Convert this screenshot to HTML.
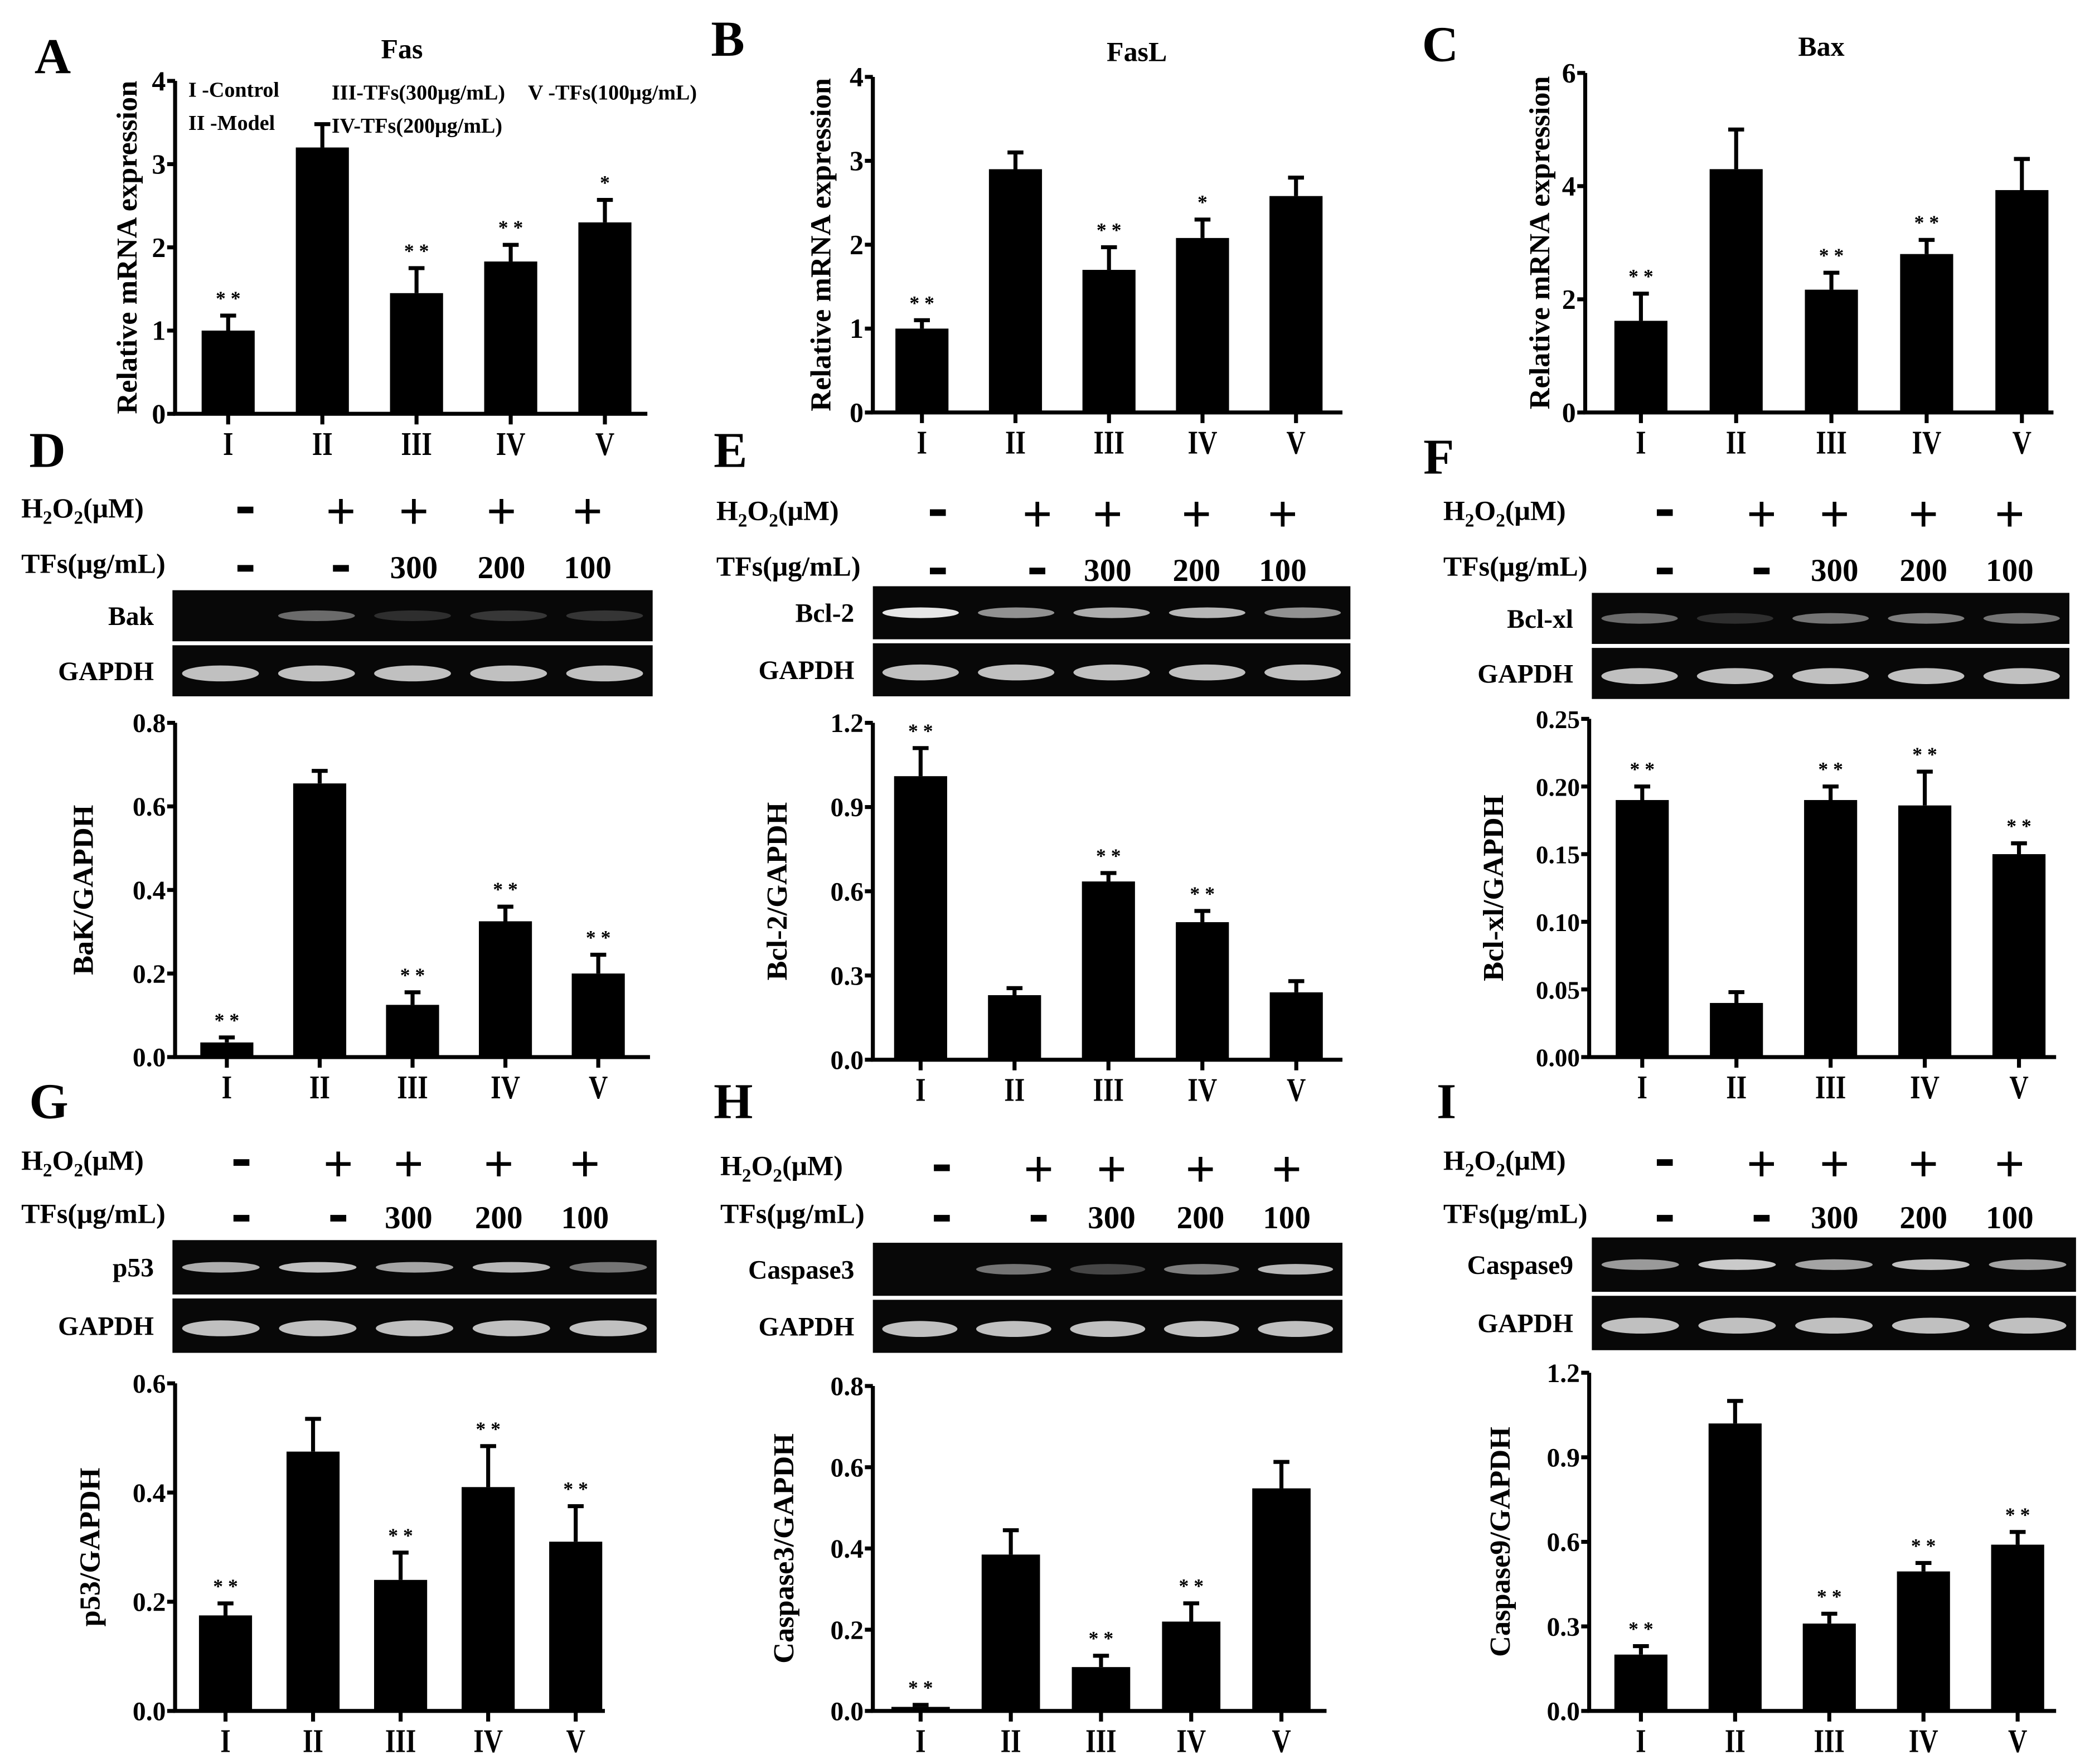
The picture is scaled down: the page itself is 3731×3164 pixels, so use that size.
<!DOCTYPE html>
<html><head><meta charset="utf-8">
<style>
html,body{margin:0;padding:0;background:#fff;}
svg{display:block;}
text{font-family:"Liberation Serif",serif;font-weight:bold;fill:#000;}
</style></head>
<body>
<svg id="fig" width="3731" height="3164" viewBox="0 0 1568 1330" preserveAspectRatio="none" xmlns="http://www.w3.org/2000/svg"></svg>
<script>
const categories = ["I","II","III","IV","V"];
const fasVals = [1.0,3.2,1.45,1.83,2.3];
const fasErr = [0.18,0.28,0.3,0.2,0.27];
const fasStars = ["**","","**","**","*"];
const fasTicks = ["0","1","2","3","4"];
const faslVals = [1.0,2.9,1.7,2.08,2.58];
const faslErr = [0.1,0.2,0.27,0.22,0.22];
const faslStars = ["**","","**","*",""];
const faslTicks = ["0","1","2","3","4"];
const baxVals = [1.62,4.3,2.17,2.8,3.93];
const baxErr = [0.48,0.7,0.3,0.25,0.55];
const baxStars = ["**","","**","**",""];
const baxTicks = ["0","2","4","6"];
const bakVals = [0.035,0.655,0.125,0.325,0.2];
const bakErr = [0.012,0.03,0.03,0.035,0.045];
const bakStars = ["**","","**","**","**"];
const bakTicks = ["0.0","0.2","0.4","0.6","0.8"];
const bcl2Vals = [1.01,0.23,0.635,0.49,0.24];
const bcl2Err = [0.1,0.025,0.03,0.04,0.04];
const bcl2Stars = ["**","","**","**",""];
const bcl2Ticks = ["0.0","0.3","0.6","0.9","1.2"];
const bclxlVals = [0.19,0.04,0.19,0.186,0.15];
const bclxlErr = [0.01,0.008,0.01,0.025,0.008];
const bclxlStars = ["**","","**","**","**"];
const bclxlTicks = ["0.00","0.05","0.10","0.15","0.20","0.25"];
const p53Vals = [0.175,0.475,0.24,0.41,0.31];
const p53Err = [0.022,0.06,0.05,0.075,0.065];
const p53Stars = ["**","","**","**","**"];
const p53Ticks = ["0.0","0.2","0.4","0.6"];
const casp3Vals = [0.01,0.385,0.108,0.22,0.548];
const casp3Err = [0.005,0.06,0.028,0.045,0.065];
const casp3Stars = ["**","","**","**",""];
const casp3Ticks = ["0.0","0.2","0.4","0.6","0.8"];
const casp9Vals = [0.2,1.02,0.31,0.495,0.59];
const casp9Err = [0.03,0.08,0.035,0.03,0.045];
const casp9Stars = ["**","","**","**","**"];
const casp9Ticks = ["0.0","0.3","0.6","0.9","1.2"];
const h2o2Labels = ["-","+","+","+","+"];
const tfsLabels = ["-","-","300","200","100"];
const bakBand = [0.0,0.35,0.03,0.08,0.07];
const bcl2Band = [1,0.55,0.7,0.75,0.55];
const bclxlBand = [0.35,0.03,0.4,0.45,0.4];
const p53Band = [0.7,0.8,0.65,0.75,0.4];
const casp3Band = [0,0.4,0.15,0.45,0.75];
const casp9Band = [0.6,0.85,0.65,0.8,0.65];

const svg = document.getElementById('fig');
const NS = 'http://www.w3.org/2000/svg';
function mk(tag, attrs, parent){const e=document.createElementNS(NS,tag);for(const k in attrs)e.setAttribute(k,attrs[k]);(parent||svg).appendChild(e);return e;}
function txt(s,x,y,size,anchor,parent,extra){const t=mk('text',Object.assign({x:x,y:y,'font-size':size,'text-anchor':anchor||'middle'},extra||{}),parent);t.textContent=s;return t;}

function chart(cfg){
  const g = mk('g',{});
  
  
  const n=cfg.ticks.length, max=parseFloat(cfg.ticks[n-1]);
  const y=v=>cfg.y0-(v/max)*(cfg.y0-cfg.yTop);
  const x=i=>cfg.x1+i*cfg.step;
  const ax = mk('path',{d:`M${cfg.ax} ${cfg.yTop} V${cfg.y0} H${cfg.axEnd}`,stroke:'#000','stroke-width':3,fill:'none'},g);
  
  
  cfg.ticks.forEach((t,i)=>{
    const v=parseFloat(t);
    mk('line',{x1:cfg.ax-6,x2:cfg.ax,y1:y(v),y2:y(v),stroke:'#000','stroke-width':3},g);
    const tl=txt(t,cfg.ax-7,y(v)+7,cfg.tickSize||21,'end',g);
    
    
  });
  const yl=txt(cfg.ylabel,0,0,cfg.ylSize||22,'middle',g,{transform:`translate(${cfg.ylx},${(cfg.yTop+cfg.y0)/2}) rotate(-90)`});
  
  
  const bw=cfg.bw||40;
  cfg.vals.forEach((v,i)=>{
    const cx=x(i), top=y(v), et=y(v+cfg.err[i]);
    const b=mk('rect',{x:cx-bw/2,y:top,width:bw,height:cfg.y0-top,fill:'#000'},g);
    
    
    mk('path',{d:`M${cx} ${top} V${et} M${cx-6} ${et} H${cx+6}`,stroke:'#000','stroke-width':3},g);
    mk('line',{x1:cx,x2:cx,y1:cfg.y0,y2:cfg.y0+8,stroke:'#000','stroke-width':3},g);
    if(cfg.stars[i]){const s=txt(cfg.stars[i].split('').join(' '),cx,et-8,15,'middle',g,{'font-weight':'normal'});
      
      }
    const c=txt(categories[i],0,0,25,'middle',g,{'font-weight':'normal',transform:`translate(${cx},${cfg.y0+31}) scale(0.8,1)`});
    
    
  });
  if(cfg.title){const t=txt(cfg.title,cfg.titleX,cfg.titleY,21,'middle',g);
    
    }
}

function letter(s,x,y){const t=txt(s,x,y,38,'start');
  
  }

function gelPanel(cfg){
  const g=mk('g',{});
  
  
  const h=txt('',cfg.lx,cfg.hy,21,'start',g);
  h.innerHTML='H<tspan font-size="14" dy="5">2</tspan><tspan dy="-5">O</tspan><tspan font-size="14" dy="5">2</tspan><tspan dy="-5">(μM)</tspan>';
  
  
  const tf=txt('TFs(μg/mL)',cfg.lx,cfg.ty,21,'start',g);
  
  
  cfg.cols.forEach((cx,i)=>{
    let a;
    if(h2o2Labels[i]==='+'){a=txt('+',cx,cfg.hy+9,40,'middle',g);}
    else {a=mk('rect',{x:cx-6,y:cfg.hy-8,width:12,height:5,fill:'#000'},g);}
    
    
    let b;
    if(tfsLabels[i]==='-'){b=mk('rect',{x:cx-6,y:cfg.ty-6,width:12,height:5,fill:'#000'},g);}
    else b=txt(tfsLabels[i],cx,cfg.ty+4,24,'middle',g);
    
    
  });
  const mid=(cfg.gy0+cfg.gy1)/2;
  [[cfg.gy0,mid-1.5,cfg.band,cfg.label,'target'],[mid+1.5,cfg.gy1,null,'GAPDH','gapdh']].forEach(([y0,y1,band,lab,key])=>{
    const r=mk('rect',{x:cfg.gx0,y:y0,width:cfg.gx1-cfg.gx0,height:y1-y0,fill:'#080808'},g);
    
    
    const lt=txt(lab,cfg.gx0-14,(y0+y1)/2+7,20,'end',g);
    
    
    const lw=(cfg.gx1-cfg.gx0)/5;
    for(let i=0;i<5;i++){
      const inten = band? band[i] : 0.8;
      if(inten<=0.01) continue;
      const c=Math.round(40+190*inten);
      const e=mk('ellipse',{cx:cfg.gx0+lw*(i+0.5),cy:(y0+y1)/2+(band?0:2),rx:lw*0.4,ry:band?4:6,fill:`rgb(${c},${c},${c})`},g);
      
      
    }
  });
}

letter('A',26,55); letter('B',536,42); letter('C',1072,46);
chart({name:'fas',vals:fasVals,err:fasErr,stars:fasStars,ticks:fasTicks,ax:132,yTop:61,y0:312,axEnd:488,x1:172,step:71,ylabel:'Relative mRNA expression',ylx:103,title:'Fas',titleX:303,titleY:44});
chart({name:'fasl',vals:faslVals,err:faslErr,stars:faslStars,ticks:faslTicks,ax:658,yTop:58,y0:311,axEnd:1012,x1:695,step:70.5,ylabel:'Relative mRNA expression',ylx:626,title:'FasL',titleX:857,titleY:46});
chart({name:'bax',vals:baxVals,err:baxErr,stars:baxStars,ticks:baxTicks,ax:1195,yTop:55,y0:311,axEnd:1548,x1:1237,step:71.8,ylabel:'Relative mRNA expression',ylx:1168,title:'Bax',titleX:1373,titleY:42});
const leg=[['I -Control',142,73],['II -Model',142,98],['III-TFs(300μg/mL)',250,75],['IV-TFs(200μg/mL)',250,100],['V -TFs(100μg/mL)',398,75]];
leg.forEach(([s,x,y])=>{const t=txt(s,x,y,16,'start');
  
  });

letter('D',22,352); letter('E',538,352); letter('F',1073,357);
gelPanel({name:'bak',lx:16,hy:390,ty:432,cols:[185,257,312,378,443],gx0:130,gx1:492,gy0:445,gy1:525,band:bakBand,label:'Bak'});
gelPanel({name:'bcl2',lx:540,hy:392,ty:434,cols:[707,782,835,902,967],gx0:658,gx1:1018,gy0:442,gy1:525,band:bcl2Band,label:'Bcl-2'});
gelPanel({name:'bclxl',lx:1088,hy:392,ty:434,cols:[1255,1328,1383,1450,1515],gx0:1200,gx1:1560,gy0:447,gy1:527,band:bclxlBand,label:'Bcl-xl'});
chart({name:'bak',vals:bakVals,err:bakErr,stars:bakStars,ticks:bakTicks,ax:132,yTop:545,y0:797,axEnd:490,x1:171,step:70,ylabel:'BaK/GAPDH',ylx:70,tickSize:20});
chart({name:'bcl2',vals:bcl2Vals,err:bcl2Err,stars:bcl2Stars,ticks:bcl2Ticks,ax:658,yTop:545,y0:799,axEnd:1012,x1:694,step:70.8,ylabel:'Bcl-2/GAPDH',ylx:593,tickSize:20});
chart({name:'bclxl',vals:bclxlVals,err:bclxlErr,stars:bclxlStars,ticks:bclxlTicks,ax:1198,yTop:542,y0:797,axEnd:1550,x1:1238,step:71,ylabel:'Bcl-xl/GAPDH',ylx:1133,tickSize:19});

letter('G',22,843); letter('H',538,843); letter('I',1083,843);
gelPanel({name:'p53',lx:16,hy:882,ty:922,cols:[182,255,308,376,441],gx0:130,gx1:495,gy0:935,gy1:1020,band:p53Band,label:'p53'});
gelPanel({name:'casp3',lx:543,hy:886,ty:922,cols:[710,783,838,905,970],gx0:658,gx1:1012,gy0:937,gy1:1020,band:casp3Band,label:'Caspase3'});
gelPanel({name:'casp9',lx:1088,hy:882,ty:922,cols:[1255,1328,1383,1450,1515],gx0:1200,gx1:1565,gy0:933,gy1:1018,band:casp9Band,label:'Caspase9'});
chart({name:'p53',vals:p53Vals,err:p53Err,stars:p53Stars,ticks:p53Ticks,ax:132,yTop:1043,y0:1290,axEnd:456,x1:170,step:66,ylabel:'p53/GAPDH',ylx:75,tickSize:20});
chart({name:'casp3',vals:casp3Vals,err:casp3Err,stars:casp3Stars,ticks:casp3Ticks,ax:658,yTop:1045,y0:1290,axEnd:1000,x1:694,step:68,ylabel:'Caspase3/GAPDH',ylx:598,tickSize:20,bw:44});
chart({name:'casp9',vals:casp9Vals,err:casp9Err,stars:casp9Stars,ticks:casp9Ticks,ax:1198,yTop:1035,y0:1290,axEnd:1550,x1:1237,step:71,ylabel:'Caspase9/GAPDH',ylx:1138,tickSize:20});
</script>
</body></html>
